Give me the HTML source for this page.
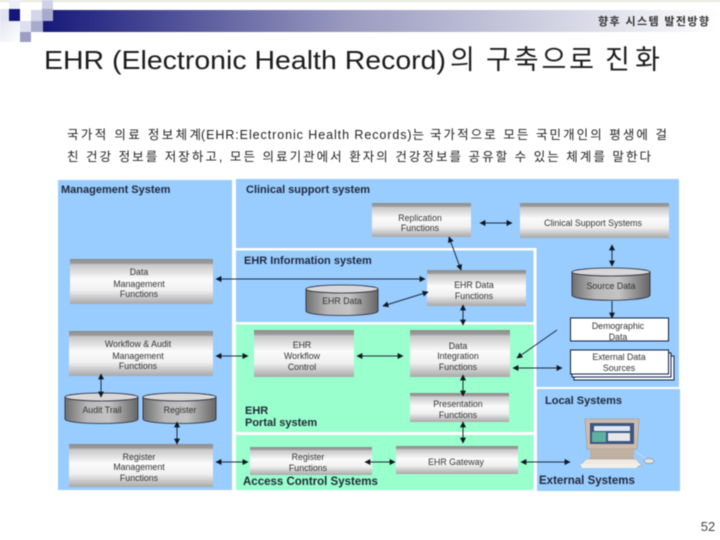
<!DOCTYPE html>
<html><head><meta charset="utf-8"><style>
html,body{margin:0;padding:0;background:#fff}
svg{display:block;font-family:"Liberation Sans","Noto Sans CJK KR",sans-serif}
.b{filter:blur(.45px)}
.l{font-size:11px;font-weight:bold;fill:#222a3a}
.t{font-size:8.8px;fill:#333;text-anchor:middle}
.c{stroke:#1c2a3c;stroke-width:1;fill:none;marker-start:url(#a);marker-end:url(#a)}
.e{stroke:#1c2a3c;stroke-width:1;fill:none;marker-end:url(#a)}
</style></head><body>
<svg width="720" height="540" viewBox="0 0 720 540" xmlns="http://www.w3.org/2000/svg">
<defs>
<linearGradient id="h"><stop offset="0" stop-color="#17197a"/><stop offset=".45" stop-color="#9a9bc0"/><stop offset="1" stop-color="#ffffff"/></linearGradient>
<linearGradient id="g" x2="0" y2="1"><stop offset="0" stop-color="#8e8e8e"/><stop offset=".09" stop-color="#9a9a9a"/><stop offset=".13" stop-color="#c8c8c8"/><stop offset=".45" stop-color="#fbfbfb"/><stop offset=".7" stop-color="#f0f0f0"/><stop offset="1" stop-color="#a8a8a8"/></linearGradient>
<linearGradient id="y"><stop offset="0" stop-color="#6f6f6f"/><stop offset=".3" stop-color="#b8b8b8"/><stop offset=".6" stop-color="#c4c4c4"/><stop offset="1" stop-color="#656565"/></linearGradient>
<linearGradient id="f" x2="1" y2="1"><stop offset="0" stop-color="#e4e5f2"/><stop offset="1" stop-color="#ffffff"/></linearGradient>
<marker id="a" viewBox="0 0 10 10" refX="9" refY="5" markerWidth="6" markerHeight="6" markerUnits="userSpaceOnUse" orient="auto-start-reverse"><path d="M0 0L10 5L0 10z" fill="#101820"/></marker>
</defs>
<g class="b">
<rect width="720" height="2" fill="#e8e8dc"/>
<rect x="43" y="10" width="677" height="22" fill="url(#h)"/>
<rect x="0" y="21" width="20" height="21" fill="url(#f)"/>
<rect x="0" y="9" width="9" height="12" fill="#e2e3f0"/>
<rect x="9" y="0" width="11" height="9" fill="#eeeef6"/>
<rect x="9" y="9" width="11" height="12" fill="#14167a"/>
<rect x="31" y="10" width="11" height="11" fill="#d4d5e8"/>
<rect x="42" y="0" width="11" height="9" fill="#d0d1e6"/>
<rect x="42" y="9" width="11" height="12" fill="#a9abce"/>
<rect x="20" y="21" width="11" height="11" fill="#dedff0"/>
<rect x="31" y="21" width="12" height="11" fill="#a9abce"/>
<rect x="20" y="32" width="11" height="10" fill="#9c9ec6"/>
<text x="598" y="25" font-size="11" font-weight="bold" fill="#333" textLength="111" lengthAdjust="spacing">향후 시스템 발전방향</text>
<text x="44" y="69" font-size="26" fill="#1c1c1c" textLength="402" lengthAdjust="spacingAndGlyphs">EHR (Electronic Health Record)</text>
<text x="450" y="69" font-size="27" fill="#1c1c1c">의</text>
<text x="486" y="69" font-size="27" fill="#1c1c1c" textLength="108" lengthAdjust="spacing">구축으로</text>
<text x="605" y="69" font-size="27" fill="#1c1c1c" textLength="55" lengthAdjust="spacing">진화</text>
<text x="67" y="139" font-size="12.500" fill="#222" textLength="134" lengthAdjust="spacing">국가적 의료 정보체계</text>
<text x="201" y="139" font-size="12.500" fill="#222" textLength="223" lengthAdjust="spacing">(EHR:Electronic Health Records)는</text>
<text x="430" y="139" font-size="12.500" fill="#222" textLength="237" lengthAdjust="spacing">국가적으로 모든 국민개인의 평생에 걸</text>
<text x="67" y="161" font-size="12.500" fill="#222" textLength="584" lengthAdjust="spacing">친 건강 정보를 저장하고, 모든 의료기관에서 환자의 건강정보를 공유할 수 있는 체계를 말한다</text>

<!-- panels -->
<rect x="58" y="180" width="174" height="310" fill="#99ccff"/>
<rect x="236" y="179" width="443" height="208" fill="#99ccff"/>
<rect x="537" y="389" width="143" height="102" fill="#99ccff"/>
<rect x="236" y="248" width="300" height="2.5" fill="#fff"/>
<rect x="533.5" y="248" width="3" height="141" fill="#fff"/>
<rect x="236" y="324.500" width="297.500" height="107.500" fill="#99ffcc"/>
<rect x="236" y="322" width="298" height="2.500" fill="#fff"/>
<rect x="236" y="435" width="297.500" height="55" fill="#99ffcc"/>
<rect x="533.5" y="387" width="147" height="2" fill="#fff"/>

<text class="l" x="61" y="193">Management System</text>
<text class="l" x="246" y="193">Clinical support system</text>
<text class="l" x="244" y="264">EHR Information system</text>
<text class="l" x="245" y="414">EHR</text>
<text class="l" x="245" y="426">Portal system</text>
<text class="l" x="243" y="485" style="font-size:11.500px">Access Control Systems</text>
<text class="l" x="545" y="404">Local Systems</text>
<text class="l" x="539" y="484" style="font-size:11.500px">External Systems</text>

<!-- boxes -->
<rect x="70" y="259" width="143" height="45" fill="url(#g)"/>
<rect x="69" y="331" width="144" height="45" fill="url(#g)"/>
<rect x="69" y="444" width="144" height="43" fill="url(#g)"/>
<rect x="372" y="203" width="99" height="34" fill="url(#g)"/>
<rect x="520" y="203" width="149" height="35" fill="url(#g)"/>
<rect x="427" y="270" width="99" height="36" fill="url(#g)"/>
<rect x="254" y="330" width="100" height="47" fill="url(#g)"/>
<rect x="410" y="330" width="100" height="47" fill="url(#g)"/>
<rect x="410" y="393" width="99" height="29" fill="url(#g)"/>
<rect x="250" y="447" width="122" height="28" fill="url(#g)"/>
<rect x="396" y="446" width="122" height="28" fill="url(#g)"/>

<g class="t">
<text x="139" y="275">Data</text><text x="139" y="287">Management</text><text x="139" y="297">Functions</text>
<text x="138" y="347">Workflow &amp; Audit</text><text x="138" y="359">Management</text><text x="138" y="369">Functions</text>
<text x="139" y="460">Register</text><text x="139" y="470">Management</text><text x="139" y="481">Functions</text>
<text x="420" y="221">Replication</text><text x="420" y="231">Functions</text>
<text x="593" y="226">Clinical Support Systems</text>
<text x="474" y="288">EHR Data</text><text x="474" y="299">Functions</text>
<text x="302" y="348">EHR</text><text x="302" y="359">Workflow</text><text x="302" y="370">Control</text>
<text x="458" y="349">Data</text><text x="458" y="359">Integration</text><text x="458" y="370">Functions</text>
<text x="458" y="407">Presentation</text><text x="458" y="418">Functions</text>
<text x="308" y="460">Register</text><text x="308" y="471">Functions</text>
<text x="456" y="465">EHR Gateway</text>
</g>

<!-- cylinders -->
<g stroke="#223" stroke-width=".8">
<path d="M306 289V311C306 317 378 317 378 311V289z" fill="url(#y)"/><ellipse cx="342" cy="289" rx="36" ry="4" fill="#d8d8d8"/>
<path d="M572 272V295C572 302 650 302 650 295V272z" fill="url(#y)"/><ellipse cx="611" cy="272" rx="39" ry="4" fill="#d8d8d8"/>
<path d="M65 397V419C65 425 138 425 138 419V397z" fill="url(#y)"/><ellipse cx="101.500" cy="397" rx="36.500" ry="4" fill="#d8d8d8"/>
<path d="M143 397V419C143 425 216 425 216 419V397z" fill="url(#y)"/><ellipse cx="179.500" cy="397" rx="36.500" ry="4" fill="#d8d8d8"/>
</g>
<g class="t">
<text x="342" y="304">EHR Data</text><text x="611" y="289">Source Data</text>
<text x="102" y="413">Audit Trail</text><text x="180" y="413">Register</text>
</g>

<!-- white boxes -->
<g fill="#fff" stroke="#102040" stroke-width="1">
<rect x="570.500" y="318" width="98" height="23"/>
<rect x="574" y="356" width="100" height="24"/><rect x="572" y="353" width="99" height="24"/><rect x="570.500" y="350" width="98" height="24"/>
</g>
<g class="t"><text x="618" y="329">Demographic</text><text x="618" y="340">Data</text><text x="619" y="360">External Data</text><text x="619" y="371">Sources</text></g>

<!-- connectors -->
<path class="c" d="M216 279H425"/>
<path class="c" d="M480 223H512"/>
<path class="c" d="M449 237L461 270"/>
<path class="c" d="M383 306L428 292"/>
<path class="c" d="M463 305V325"/>
<path class="c" d="M612 245V266"/>
<path class="e" d="M612 301V318"/>
<path class="c" d="M216 356H248"/>
<path class="c" d="M357 356H403"/>
<path class="e" d="M557 330L517 358"/>
<path class="c" d="M513 368H562"/>
<path class="c" d="M463 375V396"/>
<path class="c" d="M463 422V443"/>
<path class="c" d="M101 374V397"/>
<path class="c" d="M177 422V444"/>
<path class="c" d="M216 462H248"/>
<path class="c" d="M365 462H395"/>
<path class="c" d="M521 462H570"/>

<!-- computer -->
<path d="M585 419H639L637 449H587z" fill="#cdbcae" stroke="#9a8a7a" stroke-width=".5"/>
<rect x="590" y="423" width="44" height="21" fill="#3d5583"/>
<rect x="594" y="426" width="36" height="5" fill="#dfe8f2"/><rect x="592" y="432" width="14" height="10" fill="#5fb0a0"/><rect x="608" y="433" width="22" height="8" fill="#e8e8e8"/>
<rect x="590" y="449" width="44" height="10" fill="#bfb0a0"/>
<path d="M586 459H636L642 466H580z" fill="#efe9e0" stroke="#888" stroke-width=".4"/>
<path d="M580 464H640L636 468H582z" fill="#f4f0e8"/>
<ellipse cx="649" cy="461" rx="5" ry="2.500" fill="#e8e4dc" stroke="#667" stroke-width=".5"/>
<path d="M636 452L646 459" stroke="#ddd" stroke-width=".6"/>

<text x="708" y="531" font-size="13" fill="#444" text-anchor="middle">52</text>
</g>
</svg>
</body></html>
